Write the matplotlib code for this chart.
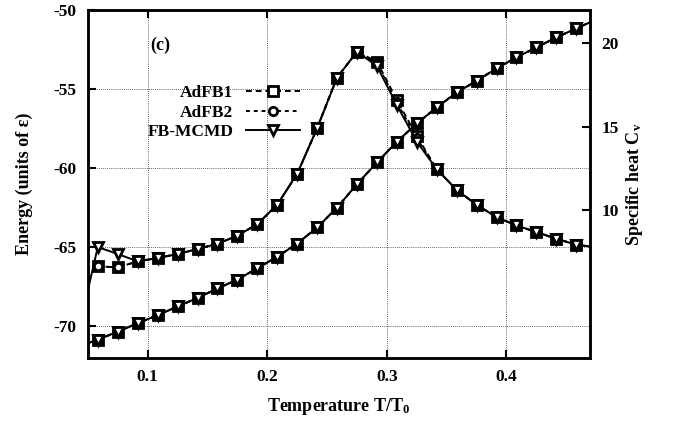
import matplotlib
matplotlib.use('Agg')
import matplotlib.pyplot as plt
import numpy as np

plt.rcParams['font.family'] = ['Liberation Serif', 'DejaVu Serif']
plt.rcParams['font.weight'] = 'bold'
plt.rcParams['axes.labelweight'] = 'bold'
plt.rcParams['axes.unicode_minus'] = False
plt.rcParams['mathtext.fontset'] = 'custom'
plt.rcParams['mathtext.rm'] = 'Liberation Serif:bold'
plt.rcParams['mathtext.it'] = 'Liberation Serif:bold'

# temperatures T/T0 (first and last points fall just outside the frame)
temp = [0.0417, 0.0583, 0.0750, 0.0917, 0.1083, 0.1250, 0.1417, 0.1583, 0.1750,
        0.1917, 0.2083, 0.2250, 0.2417, 0.2583, 0.2750, 0.2917, 0.3083, 0.3250,
        0.3417, 0.3583, 0.3750, 0.3917, 0.4083, 0.4250, 0.4417, 0.4583, 0.4750]

# energy (units of epsilon)
energy_fbmcmd = [-71.30, -70.85, -70.34, -69.81, -69.30, -68.75, -68.21, -67.61, -67.05,
                 -66.33, -65.61, -64.77, -63.75, -62.50, -61.01, -59.64, -58.33, -57.17,
                 -56.16, -55.21, -54.48, -53.69, -52.99, -52.36, -51.73, -51.16, -50.60]
energy_adfb1 = energy_fbmcmd
energy_adfb2 = energy_fbmcmd

# specific heat Cv
cv_fbmcmd = [2.60, 7.76, 7.34, 6.90, 7.10, 7.34, 7.64, 7.96, 8.44, 9.14, 10.30, 12.16,
             14.90, 17.94, 19.50, 18.64, 16.30, 14.10, 12.44, 11.20, 10.30, 9.56, 9.06,
             8.66, 8.26, 7.90, 7.75]
cv_adfb1 = [np.nan, 6.60, 6.54, 6.90, 7.10, 7.34, 7.64, 7.96, 8.44, 9.14, 10.30, 12.16,
            14.90, 17.94, 19.50, 18.90, 16.60, 14.44, 12.44, 11.20, 10.30, 9.56, 9.06,
            8.66, 8.26, 7.90, 7.75]
cv_adfb2 = [np.nan, 6.60, 6.54, 6.90, 7.10, 7.34, 7.64, 7.96, 8.44, 9.14, 10.30, 12.16,
            14.90, 17.94, 19.50, 18.80, 16.45, 14.30, 12.44, 11.20, 10.30, 9.56, 9.06,
            8.66, 8.26, 7.90, 7.75]

fig = plt.figure(figsize=(6.76, 4.22), dpi=100)
ax = fig.add_axes([0.130, 0.152, 0.743, 0.824])
ax2 = ax.twinx()

styles = [
    ('AdFB1', energy_adfb1, cv_adfb1, dict(ls=(0, (3, 2)), marker='s', ms=6.5)),
    ('AdFB2', energy_adfb2, cv_adfb2, dict(ls=(0, (2, 2)), marker='o', ms=6)),
    ('FB-MCMD', energy_fbmcmd, cv_fbmcmd, dict(ls='-', marker='v', ms=6.5)),
]
for label, en, cv, st in styles:
    kw = dict(color='black', lw=1.4, mfc='white', mec='black', mew=2.0, **st)
    ax.plot(temp, en, label=label, **kw)
    ax2.plot(temp, cv, **kw)

ax.set_xlim(0.05, 0.47)
ax.set_ylim(-72, -50)
ax2.set_ylim(1.1, 22)

ax.set_xticks([0.1, 0.2, 0.3, 0.4])
ax.set_yticks([-70, -65, -60, -55, -50])
ax2.set_yticks([10, 15, 20])
ax.set_xticklabels(['0.1', '0.2', '0.3', '0.4'])

ax.grid(True, color='black', ls=(0, (1, 1.5)), lw=0.6, alpha=0.8)
ax.set_axisbelow(True)

ax.tick_params(axis='both', direction='in', length=6, width=1.5, labelsize=12.5,
               top=True, right=False, pad=8)
ax2.tick_params(axis='y', direction='in', length=6, width=1.5, labelsize=12.5, pad=8)
for a in (ax, ax2):
    for s in a.spines.values():
        s.set_linewidth(1.8)

ax.set_xlabel(r'Temperature T/T$_\mathrm{0}$', fontsize=13, labelpad=8)
ax.set_ylabel('Energy (units of ε)', fontsize=13, labelpad=15)
ax2.set_ylabel(r'Specific heat C$_\mathrm{v}$', fontsize=13, labelpad=4)

ax.text(0.124, 0.90, '(c)', transform=ax.transAxes, fontsize=13, ha='left', va='center')

leg = ax.legend(loc='upper right', bbox_to_anchor=(0.44, 0.81), frameon=False,
                markerfirst=False, fontsize=12.5, handlelength=3.1, handletextpad=0.75,
                labelspacing=0.2, borderpad=0)

fig.savefig('out.png', dpi=100)
